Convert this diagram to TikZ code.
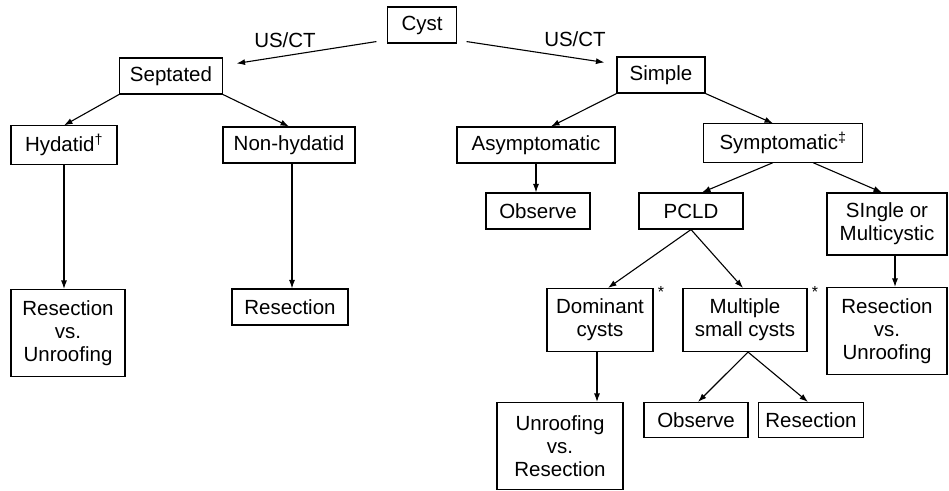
\documentclass[tikz,border=0pt]{standalone}
\usepackage{fontspec}
\setmainfont{Liberation Sans}
\usetikzlibrary{arrows.meta,positioning}

\begin{document}
\begin{tikzpicture}[x=1pt,y=-1pt,
		box/.style={draw, line width=1.1pt, font=\fontsize{20.5}{23}\selectfont, align=center, inner xsep=2pt, inner ysep=8pt, minimum height=36pt},
		arr/.style={-{Latex[length=8.5pt,width=6pt]}, line width=1.1pt},
		lbl/.style={font=\fontsize{20.5}{23}\selectfont},
		star/.style={font=\fontsize{16}{16}\selectfont, inner sep=0pt, anchor=north west}]
		\useasboundingbox (0,0) rectangle (949,490);
		
		\node[box, minimum width=69pt] (cyst) at (422,25) {Cyst};
		\node[box, minimum width=103pt] (sept) at (171,76) {Septated};
		\node[box, minimum width=88pt] (simple) at (661,75) {Simple};
		
		\node[box, minimum width=106pt] (hyd) at (64,145) {Hydatid\textsuperscript{†}};
		\node[box, minimum width=132pt] (nonhyd) at (289,145) {Non-hydatid};
		\node[box, minimum width=158pt] (asym) at (536,145) {Asymptomatic};
		\node[box, minimum width=159pt] (symp) at (783,143) {Symptomatic\textsuperscript{‡}};
		
		\node[box, minimum width=104pt] (obs1) at (538,211) {Observe};
		\node[box, minimum width=104pt] (pcld) at (691,211) {PCLD};
		\node[box, minimum width=120pt, minimum height=62pt] (single) at (887,224) {SIngle or\\Multicystic};
		
		\node[box, minimum width=114pt, minimum height=87pt] (resunL) at (68,333) {Resection\\vs.\\Unroofing};
		\node[box, minimum width=116pt] (resL) at (290,307) {Resection};
		\node[box, minimum width=106pt, minimum height=63pt] (dom) at (600,320) {Dominant\\cysts};
		\node[box, minimum width=124pt, minimum height=63pt] (mult) at (745,320) {Multiple\\small cysts};
		\node[box, minimum width=120pt, minimum height=87pt] (resunR) at (887,331) {Resection\\vs.\\Unroofing};
		
		\node[box, minimum width=126pt, minimum height=87pt] (unres) at (560,446) {Unroofing\\vs.\\Resection};
		\node[box, minimum width=104pt, minimum height=35pt] (obs2) at (696,420) {Observe};
		\node[box, minimum width=105pt, minimum height=35pt] (res2) at (811,420) {Resection};
		
		% labels and notes
		\node[lbl] (usl) at (285,40) {US/CT};
		\node[lbl] (usr) at (575,39) {US/CT};
		\node[star] (sd) at ([xshift=4pt,yshift=2pt]dom.north east) {*};
		\node[star] (sm) at ([xshift=4pt,yshift=2pt]mult.north east) {*};
		
		% connectors
		\draw[arr] ([xshift=-10.5pt,yshift=2pt]cyst.south west) -- ([xshift=13.5pt,yshift=-6pt]sept.north east);
		\draw[arr] ([xshift=9.5pt,yshift=2pt]cyst.south east) -- ([xshift=-12pt,yshift=-6pt]simple.north west);
		\draw[arr] (sept.south west) -- (hyd.north);
		\draw[arr] (sept.south east) -- (nonhyd.north);
		\draw[arr] (hyd.south) -- (hyd.south |- resunL.north);
		\draw[arr] ([xshift=3pt]nonhyd.south) -- ([xshift=3pt]nonhyd.south |- resL.north);
		\draw[arr] (simple.south west) -- ([xshift=15pt]asym.north);
		\draw[arr] (simple.south east) -- ([xshift=-10pt]symp.north);
		\draw[arr] (asym.south) -- (asym.south |- obs1.north);
		\draw[arr] ([xshift=-10pt]symp.south) -- ([xshift=11pt]pcld.north);
		\draw[arr] ([xshift=30pt]symp.south) -- ([xshift=-5pt]single.north);
		\draw[arr] ([xshift=8pt]single.south) -- ([xshift=8pt]resunR.north);
		\draw[arr] (pcld.south) -- ([xshift=8pt]dom.north);
		\draw[arr] (pcld.south) -- ([xshift=-2pt]mult.north);
		\draw[arr] ([xshift=-3pt]dom.south) -- ([xshift=-3pt]dom.south |- unres.north);
		\draw[arr] ([xshift=3pt]mult.south) -- ([xshift=2pt]obs2.north);
		\draw[arr] ([xshift=3pt]mult.south) -- ([xshift=-3pt]res2.north);
\end{tikzpicture}
\end{document}
